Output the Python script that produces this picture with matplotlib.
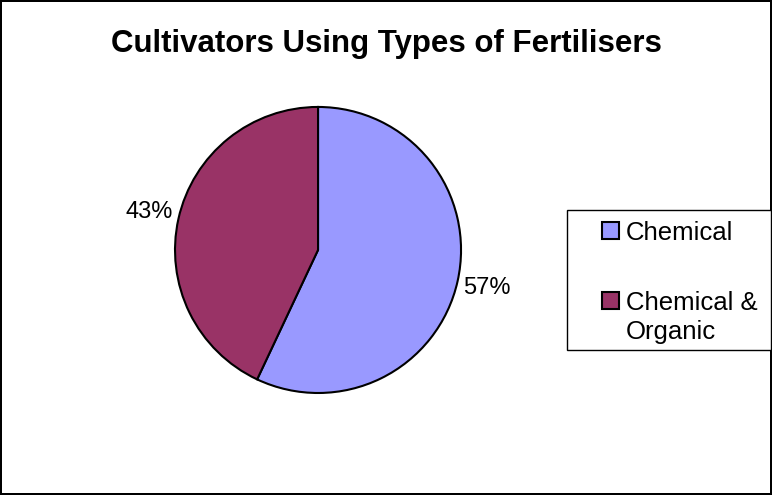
import matplotlib.pyplot as plt
from matplotlib.patches import Rectangle

plt.rcParams['font.family'] = ['Liberation Sans', 'DejaVu Sans']

# fertiliser types and share of cultivators (%)
labels = ["Chemical", "Chemical &\nOrganic"]
shares = [57, 43]
colors = ["#9999FF", "#993366"]

W, H = 772, 495


def fx(x):
    return x / W


def fy(y):
    return 1 - y / H


fig = plt.figure(figsize=(7.72, 4.95), dpi=100, edgecolor="black", linewidth=1.5)

ax = fig.add_axes([0.2267, 0.206, 0.3705, 0.578])
ax.pie(shares, colors=colors, startangle=90, counterclock=False,
       autopct="%d%%", pctdistance=1.21, radius=1,
       wedgeprops=dict(edgecolor="black", linewidth=1.5),
       textprops=dict(fontsize=17, color="black"))
ax.set_xlim(-1, 1)
ax.set_ylim(-1, 1)
ax.set_aspect("equal")

fig.text(0.5, fy(44), "Cultivators Using Types of Fertilisers",
         ha="center", va="center", fontsize=22.5, fontweight="bold")

# legend box drawn by hand
fig.patches.append(Rectangle((fx(567), fy(350)), fx(771) - fx(567), fy(210) - fy(350),
                             transform=fig.transFigure, facecolor="white",
                             edgecolor="black", linewidth=1.0))
key_y = [222, 292]
for i, (lab, c) in enumerate(zip(labels, colors)):
    fig.patches.append(Rectangle((fx(602), fy(key_y[i] + 17)), 17 / W, 17 / H,
                                 transform=fig.transFigure, facecolor=c,
                                 edgecolor="black", linewidth=1.5))
    # one text per line so each baseline sits where it should
    for j, line in enumerate(lab.split("\n")):
        fig.text(fx(626), fy(key_y[i] + 18 + 29 * j), line, ha="left",
                 va="baseline", fontsize=18.5)

fig.savefig("out.png", dpi=100)
